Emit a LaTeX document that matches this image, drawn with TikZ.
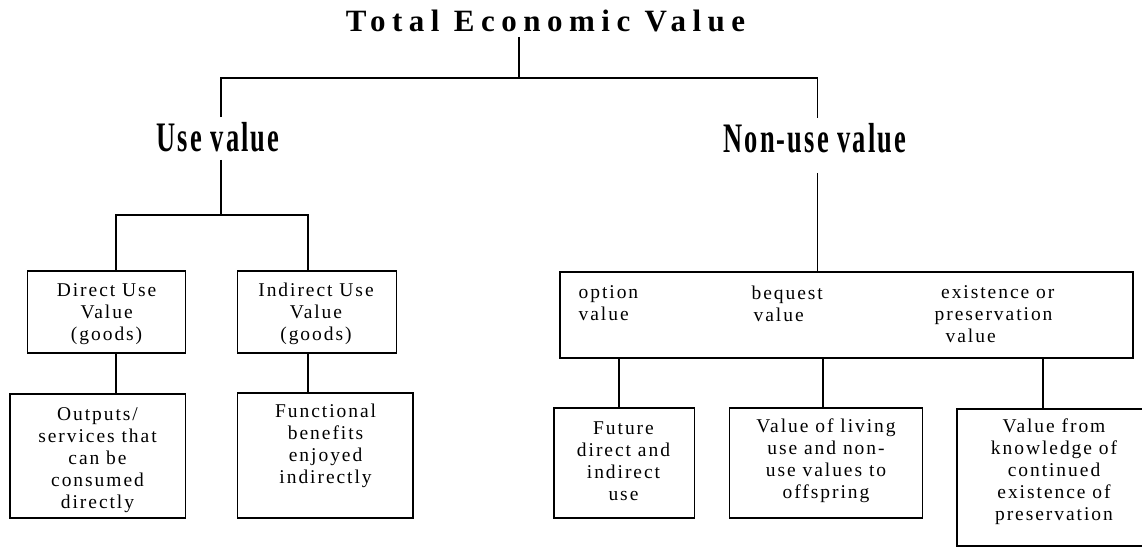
\documentclass[tikz,border=0pt]{standalone}
\usepackage{fontspec}
\setmainfont{Liberation Serif}
\newfontfamily\boxfont[LetterSpace=10]{Liberation Serif}
\newfontfamily\titlefont[LetterSpace=21]{Liberation Serif}
\newfontfamily\condfont[LetterSpace=8]{Liberation Serif}
\begin{document}
\begin{tikzpicture}[x=1pt,y=-1pt,line width=1.3pt,
  box/.style={draw,line width=1.3pt,inner sep=0pt},
  btext/.style={font=\boxfont\fontsize{19.5}{22}\selectfont,align=center,inner sep=0pt},
  lbl/.style={inner sep=5pt,font=\condfont\bfseries\fontsize{42}{44}\selectfont}]
\useasboundingbox (0,0) rectangle (1142,548);
\clip (0,0) rectangle (1142,548);

% title and labels
\node[anchor=base,inner sep=0pt,font=\titlefont\bfseries\fontsize{31}{33}\selectfont] (title) at (545.5,32) {Total Economic Value};
\node[lbl,anchor=base] (useL) at (218,152) {\scalebox{0.63}[1]{Use value}};
\node[lbl,anchor=base] (nonL) at (815,153) {\scalebox{0.63}[1]{Non-use value}};

% boxes
\node[box,minimum width=158pt,minimum height=82pt] (DU) at (106.6,312) {};
\node[box,minimum width=159pt,minimum height=82pt] (IU) at (317.2,312) {};
\node[box,minimum width=175.7pt,minimum height=124pt] (OUT) at (97.85,456) {};
\node[box,minimum width=175.3pt,minimum height=125pt] (FUN) at (325.35,455.5) {};
\node[box,minimum width=573pt,minimum height=86pt] (NU) at (846.5,315) {};
\node[box,minimum width=140.3pt,minimum height=110pt] (FUT) at (624.15,463) {};
\node[box,minimum width=193pt,minimum height=110pt] (LIV) at (826,463) {};
\node[box,minimum width=205pt,minimum height=137pt] (KNO) at (1059.5,477.5) {};

% box texts
\node[btext] (DUt) at (106.6,314) {Direct Use\\Value\\(goods)};
\node[btext] (IUt) at (316,314) {Indirect Use\\Value\\(goods)};
\node[btext] (OUTt) at (97.5,459.7) {Outputs/\\services that\\can be\\consumed\\directly};
\node[btext] (FUNt) at (325.6,446) {Functional\\benefits\\enjoyed\\indirectly};
\node[btext] (FUTt) at (623.5,461) {Future\\direct and\\indirect\\use};
\node[btext] (LIVt) at (826,461) {Value of living\\use and non-\\use values to\\offspring};
\node[btext] (KNOt) at (1054,472) {Value from\\knowledge of\\continued\\existence of\\preservation};
\node[btext,align=left,anchor=west] (opt) at (578,303.5) {option\\value};
\node[btext,align=left,anchor=west] (beq) at (751,303.5) {bequest\\\hspace*{2pt}value};
\node[btext,align=left,anchor=west] (exi) at (934,314) {\hspace*{6.5pt}existence or\\preservation\\\hspace*{11pt}value};

% junction coordinates
\coordinate (tTop) at (519,37);
\coordinate (jTop) at (519,78);
\coordinate (jL) at (221,78);
\coordinate (jR) at (817.7,78);
\coordinate (uTop) at (221,160);
\coordinate (hU) at (221,215);
\coordinate (nTop) at (817.7,173);
\coordinate (cDU) at (116,0);
\coordinate (cIU) at (308,0);
\coordinate (cF) at (619,0);
\coordinate (cL) at (823,0);
\coordinate (cK) at (1043,0);

% connectors
\draw (tTop) -- (jTop);
\draw (useL.north -| jL) -- (jL) -- (jR) -- (nonL.north -| jR);
\draw (uTop) -- (hU);
\draw (DU.north -| cDU) -- (cDU |- hU) -- (cIU |- hU) -- (IU.north -| cIU);
\draw (DU.south -| cDU) -- (OUT.north -| cDU);
\draw (IU.south -| cIU) -- (FUN.north -| cIU);
\draw (nTop) -- (NU.north -| nTop);
\draw (NU.south -| cF) -- (FUT.north -| cF);
\draw (NU.south -| cL) -- (LIV.north -| cL);
\draw (NU.south -| cK) -- (KNO.north -| cK);
\end{tikzpicture}
\end{document}
